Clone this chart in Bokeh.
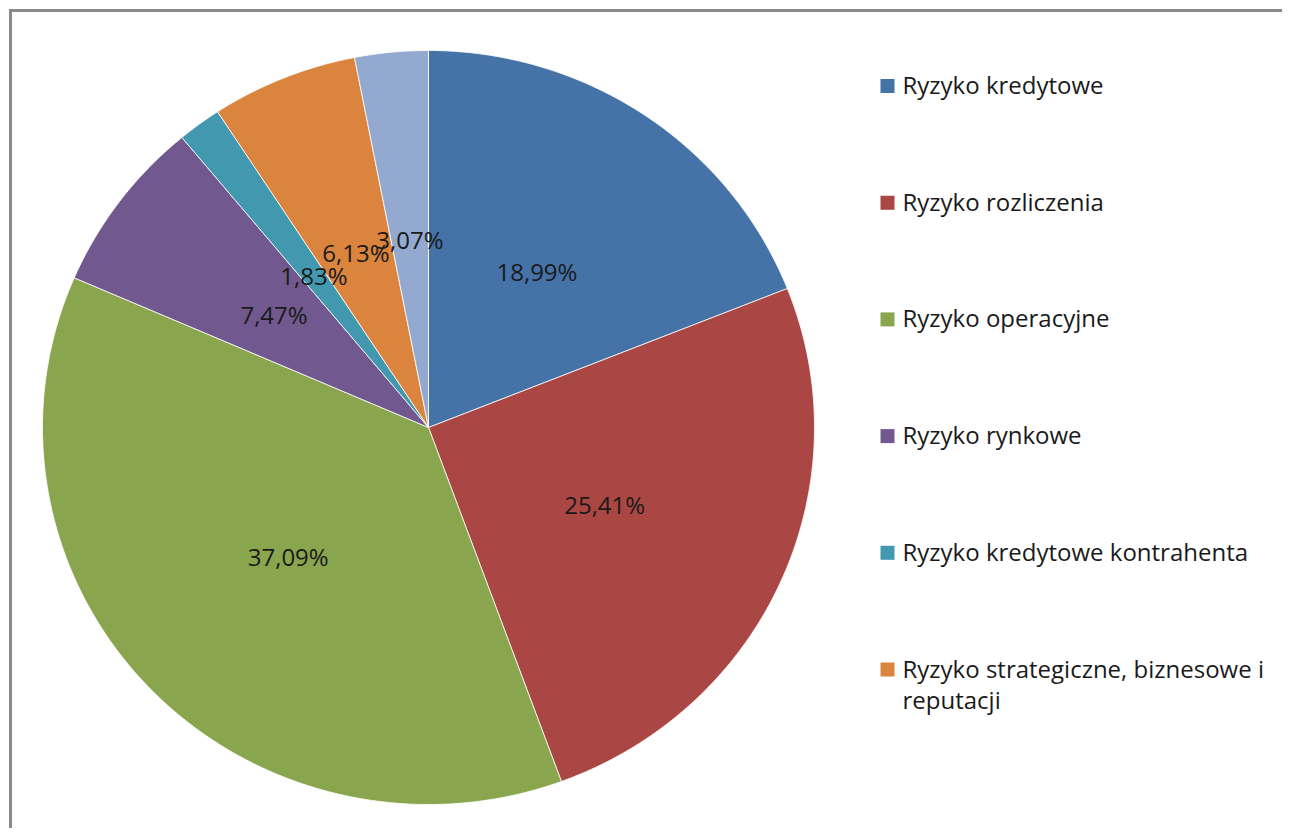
import textwrap
import numpy as np
from bokeh.plotting import figure
from bokeh.models import Range1d
from bokeh.core.properties import value
from bokeh.embed import file_html
from bokeh.resources import INLINE

# ---- data ----
categories = [
    "Ryzyko kredytowe",
    "Ryzyko rozliczenia",
    "Ryzyko operacyjne",
    "Ryzyko rynkowe",
    "Ryzyko kredytowe kontrahenta",
    "Ryzyko strategiczne, biznesowe i reputacji",
    "Pozostałe",
]
shares = [18.99, 25.41, 37.09, 7.47, 1.83, 6.13, 3.07]
share_labels = ["18,99%", "25,41%", "37,09%", "7,47%", "1,83%", "6,13%", "3,07%"]
colors = ["#4572A7", "#AA4643", "#89A54E", "#71588F", "#4198AF", "#DB843D", "#93A9CF"]
legend_count = 6  # the reference shows only the first six entries

# ---- layout (pixel coordinates, y downward) ----
W, H = 1282, 828
cx, cy = 428, 427
rx, ry = 386, 377
label_frac = 0.5
border_pos = 10

p = figure(width=W, height=H, output_backend="svg", toolbar_location=None,
           x_range=Range1d(0, W), y_range=Range1d(H, 0), min_border=0)
p.axis.visible = False
p.grid.visible = False
p.outline_line_color = None
p.background_fill_color = "white"
p.border_fill_color = "white"

vals = np.array(shares, dtype=float)
frac = vals / vals.sum()
ends = np.cumsum(frac) * 2 * np.pi
starts = ends - frac * 2 * np.pi

xs, ys, lx, ly = [], [], [], []
for a0, a1 in zip(starts, ends):
    n = max(4, int((a1 - a0) / (2 * np.pi) * 720))
    t = np.linspace(a0, a1, n)
    xs.append([cx] + list(cx + rx * np.sin(t)) + [cx])
    ys.append([cy] + list(cy - ry * np.cos(t)) + [cy])
    m = (a0 + a1) / 2
    lx.append(cx + label_frac * rx * np.sin(m))
    ly.append(cy - label_frac * ry * np.cos(m))

p.patches(xs=xs, ys=ys, fill_color=colors, line_color="white", line_width=0.8)

p.text(x=lx, y=ly, text=share_labels, text_align="center", text_baseline="middle",
       text_font=value("Open Sans"), text_font_size="24px", text_color="#1a1a1a")

# ---- legend ----
leg_x0 = 887
leg_y0 = 85.5
leg_step = 116.7
idx = np.arange(legend_count)
sq_y = leg_y0 + idx * leg_step
wrapped = [textwrap.fill(c, 32) for c in categories[:legend_count]]
p.scatter(x=[leg_x0] * legend_count, y=list(sq_y), marker="square", size=14,
          fill_color=colors[:legend_count], line_color=None)
p.text(x=[leg_x0 + 15] * legend_count, y=list(sq_y - 18), text=wrapped,
       text_align="left", text_baseline="top", text_line_height=0.96,
       text_font=value("Open Sans"), text_font_size="24px", text_color="#1a1a1a")

# ---- chart border (top and left visible) ----
p.line(x=[border_pos, border_pos, W + 5], y=[H + 5, border_pos, border_pos],
       line_color="#898989", line_width=3, line_join="miter")

open("out.html", "w").write(file_html(p, INLINE))
